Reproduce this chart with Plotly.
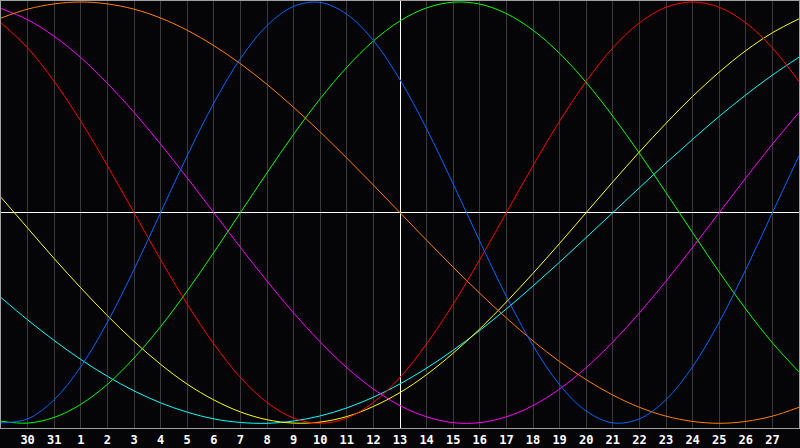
import plotly.graph_objects as go

# Day offsets around the centre day (13), and the day-of-month labels
offsets = list(range(-15, 16))
day_labels = [29, 30, 31] + list(range(1, 29))

# Cycle values per day (-1 .. 1)
physical = [-0.998, -0.979, -0.888, -0.731, -0.520, -0.270, 0.000, 0.270,
            0.520, 0.731, 0.888, 0.979, 0.998, 0.942, 0.817, 0.631, 0.398,
            0.136, -0.136, -0.398, -0.631, -0.817, -0.942, -0.998, -0.979,
            -0.888, -0.731, -0.520, -0.270, 0.000, 0.270]
emotional = [0.901, 0.782, 0.623, 0.434, 0.223, 0.000, -0.223, -0.434,
             -0.623, -0.782, -0.901, -0.975, -1.000, -0.975, -0.901, -0.782,
             -0.623, -0.434, -0.223, 0.000, 0.223, 0.434, 0.623, 0.782,
             0.901, 0.975, 1.000, 0.975, 0.901, 0.782, 0.623]
intellectual = [-0.990, -0.999, -0.972, -0.910, -0.815, -0.690, -0.541,
                -0.372, -0.189, 0.000, 0.189, 0.372, 0.541, 0.690, 0.815,
                0.910, 0.972, 0.999, 0.990, 0.945, 0.866, 0.756, 0.618,
                0.458, 0.282, 0.095, -0.095, -0.282, -0.458, -0.618, -0.756]
intuitive = [0.969, 0.916, 0.837, 0.736, 0.614, 0.476, 0.325, 0.165, 0.000,
             -0.165, -0.325, -0.476, -0.614, -0.736, -0.837, -0.916, -0.969,
             -0.997, -0.997, -0.969, -0.916, -0.837, -0.736, -0.614, -0.476,
             -0.325, -0.165, 0.000, 0.165, 0.325, 0.476]
aesthetic = [0.073, -0.073, -0.218, -0.357, -0.489, -0.611, -0.720, -0.814,
             -0.889, -0.946, -0.983, -0.999, -0.994, -0.968, -0.920, -0.854,
             -0.769, -0.667, -0.552, -0.424, -0.288, -0.146, 0.000, 0.146,
             0.288, 0.424, 0.552, 0.667, 0.769, 0.854, 0.920]
awareness = [0.924, 0.966, 0.991, 1.000, 0.991, 0.966, 0.924, 0.866, 0.793,
             0.707, 0.609, 0.500, 0.383, 0.259, 0.131, 0.000, -0.131, -0.259,
             -0.383, -0.500, -0.609, -0.707, -0.793, -0.866, -0.924, -0.966,
             -0.991, -1.000, -0.991, -0.966, -0.924]
spiritual = [-0.403, -0.509, -0.607, -0.697, -0.777, -0.846, -0.903, -0.947,
             -0.979, -0.996, -1.000, -0.989, -0.965, -0.927, -0.876, -0.813,
             -0.738, -0.653, -0.559, -0.457, -0.348, -0.235, -0.118, 0.000,
             0.118, 0.235, 0.348, 0.457, 0.559, 0.653, 0.738]

series = [
    (spiritual, '#00ffff'),
    (aesthetic, '#ffff00'),
    (intuitive, '#ff00ff'),
    (awareness, '#ff8000'),
    (intellectual, '#00ff00'),
    (emotional, '#ff0000'),
    (physical, '#0066ff'),
]

fig = go.Figure()
for values, colour in series:
    fig.add_trace(go.Scatter(
        x=offsets, y=values, mode='lines',
        line=dict(color=colour, width=1, shape='spline'),
        hoverinfo='skip'
    ))

fig.update_layout(
    width=800, height=448,
    margin=dict(l=1, r=1, t=1, b=20),
    paper_bgcolor='#050508',
    plot_bgcolor='#050508',
    showlegend=False,
    xaxis=dict(
        range=[-15, 15],
        tickvals=offsets[1:-1],
        ticktext=[str(d) for d in day_labels[1:-1]],
        showgrid=True, gridcolor='#3a3a3a', gridwidth=1,
        zeroline=True, zerolinecolor='#ffffff', zerolinewidth=1,
        showline=True, linecolor='#a0a0a0', linewidth=1, mirror=True,
        ticks='', ticklabelstandoff=1,
        tickfont=dict(family='DejaVu Sans Mono', size=12,
                      color='#ffffff', weight='bold'),
        fixedrange=True
    ),
    yaxis=dict(
        range=[-1.0223, 1.0047],
        showgrid=False, showticklabels=False,
        zeroline=True, zerolinecolor='#ffffff', zerolinewidth=1,
        showline=True, linecolor='#a0a0a0', linewidth=1, mirror=True,
        fixedrange=True
    )
)

# drop the page's default body margin so the figure sits at the corner
fig.write_html('out.html',
               config={'displayModeBar': False},
               post_script="document.body.style.margin='0';"
                           "document.body.style.background='#050508';")
